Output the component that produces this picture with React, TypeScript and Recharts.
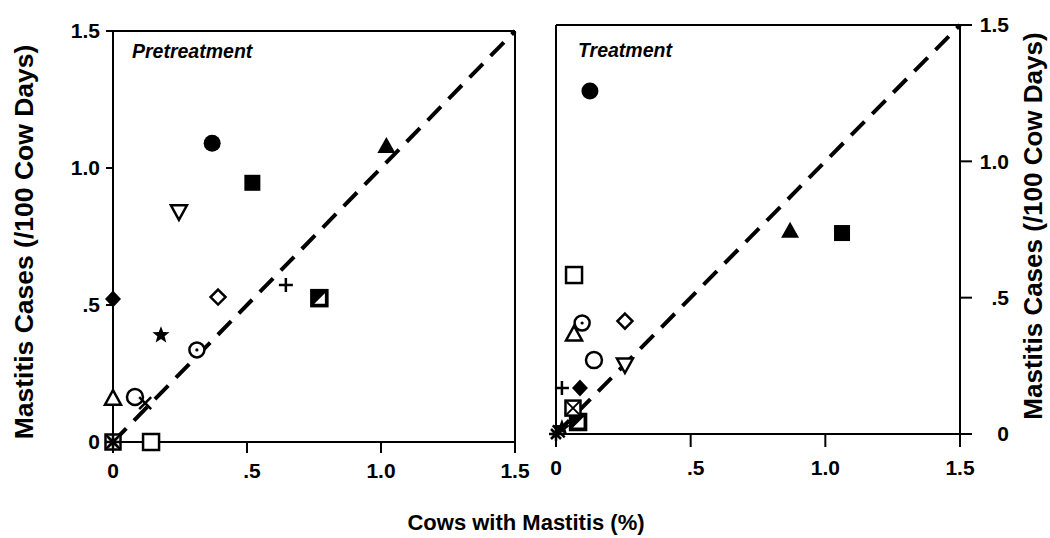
import React from 'react';
import { ScatterChart, Scatter, XAxis, YAxis, ReferenceLine } from 'recharts';

// one marker per herd, same marker in both panels
const herdMarkers = [
  'filledCircle', 'filledSquare', 'filledTriangle', 'openDownTriangle',
  'filledDiamond', 'openDiamond', 'plus', 'halfSquare',
  'dotCircle', 'openCircle', 'cross', 'openTriangle',
  'openSquare', 'star', 'bowtieSquare', 'asterisk',
];

const pretreatmentX = [0.37, 0.52, 1.02, 0.246, 0, 0.392, 0.645, 0.77, 0.313, 0.082, 0.12, 0, 0.142, 0.179, 0, 0];
const pretreatmentY = [1.09, 0.946, 1.08, 0.84, 0.522, 0.529, 0.573, 0.525, 0.336, 0.164, 0.142, 0.16, 0, 0.39, 0, 0];

const treatmentX = [0.126, 1.062, 0.869, 0.256, 0.089, 0.256, 0.022, 0.082, 0.097, 0.141, 0.01, 0.067, 0.067, 0.022, 0.063, 0];
const treatmentY = [1.258, 0.737, 0.745, 0.253, 0.169, 0.414, 0.169, 0.044, 0.407, 0.271, 0.01, 0.367, 0.583, 0.022, 0.095, 0];

const tickValues = [0, 0.5, 1, 1.5];
const tickLabels = ['0', '.5', '1.0', '1.5'];

const yTitle = 'Mastitis Cases (/100 Cow Days)';
const xTitle = 'Cows with Mastitis (%)';

const pretreatmentData = herdMarkers.map((marker, i) => ({ x: pretreatmentX[i], y: pretreatmentY[i], marker }));
const treatmentData = herdMarkers.map((marker, i) => ({ x: treatmentX[i], y: treatmentY[i], marker }));

const FONT = '"Liberation Sans", Arial, Helvetica, sans-serif';
const axisStroke = { stroke: '#000', strokeWidth: 2 };
const diagonal = [{ x: 0, y: 0 }, { x: 1.5, y: 1.5 }];

const labelFor = (v: number) => tickLabels[tickValues.indexOf(v)] ?? String(v);

const XTick = ({ x, y, payload }: any) => {
  const label = labelFor(payload.value);
  return (
    <text x={x} y={y} dx={label.startsWith('.') ? 5 : 0} dy="0.71em" textAnchor="middle"
      fontFamily={FONT} fontWeight={700} fontSize={21} fill="#000">
      {label}
    </text>
  );
};

const LeftYTick = ({ x, y, payload }: any) => (
  <text x={x} y={y} dy="0.355em" textAnchor="end" fontFamily={FONT} fontWeight={700} fontSize={21} fill="#000">
    {labelFor(payload.value)}
  </text>
);

const RightYTick = ({ x, y, payload }: any) => (
  <text x={x + 31} y={y} dy="0.355em" textAnchor="end" fontFamily={FONT} fontWeight={700} fontSize={21} fill="#000">
    {labelFor(payload.value)}
  </text>
);

const starPoints = (cx: number, cy: number, outer: number, inner: number) => {
  const pts: string[] = [];
  for (let k = 0; k < 10; k++) {
    const r = k % 2 === 0 ? outer : inner;
    const a = -Math.PI / 2 + (k * Math.PI) / 5;
    pts.push(`${cx + r * Math.cos(a)},${cy + r * Math.sin(a)}`);
  }
  return pts.join(' ');
};

const renderMarker = (props: any) => {
  const { cx, cy, payload } = props;
  const sw = 2.5;
  const open = { fill: '#fff', stroke: '#000', strokeWidth: sw };
  switch (payload.marker) {
    case 'filledCircle':
      return <circle cx={cx} cy={cy} r={8.5} fill="#000" />;
    case 'openCircle':
      return <circle cx={cx} cy={cy} r={8} {...open} />;
    case 'dotCircle':
      return (
        <g>
          <circle cx={cx} cy={cy} r={7.5} {...open} />
          <circle cx={cx} cy={cy} r={1.6} fill="#000" />
        </g>
      );
    case 'filledSquare':
      return <rect x={cx - 8} y={cy - 8} width={16} height={16} fill="#000" />;
    case 'openSquare':
      return <rect x={cx - 8} y={cy - 8} width={16} height={16} {...open} />;
    case 'halfSquare':
      return (
        <g>
          <rect x={cx - 8} y={cy - 8} width={16} height={16} fill="#000" stroke="#000" strokeWidth={sw} />
          <polygon points={`${cx - 5},${cy + 5.5} ${cx + 5.5},${cy + 5.5} ${cx + 5.5},${cy - 5}`} fill="#fff" />
        </g>
      );
    case 'bowtieSquare':
      return (
        <g>
          <rect x={cx - 7.5} y={cy - 7.5} width={15} height={15} {...open} />
          <path d={`M${cx - 7.5},${cy - 7.5} L${cx + 7.5},${cy + 7.5} M${cx + 7.5},${cy - 7.5} L${cx - 7.5},${cy + 7.5}`} stroke="#000" strokeWidth={2} />
        </g>
      );
    case 'filledTriangle':
      return <polygon points={`${cx},${cy - 9} ${cx + 9},${cy + 7} ${cx - 9},${cy + 7}`} fill="#000" />;
    case 'openTriangle':
      return <polygon points={`${cx},${cy - 8} ${cx + 8},${cy + 6.5} ${cx - 8},${cy + 6.5}`} {...open} />;
    case 'openDownTriangle':
      return <polygon points={`${cx - 8},${cy - 6.5} ${cx + 8},${cy - 6.5} ${cx},${cy + 8}`} {...open} />;
    case 'filledDiamond':
      return <polygon points={`${cx},${cy - 8.5} ${cx + 8},${cy} ${cx},${cy + 8.5} ${cx - 8},${cy}`} fill="#000" />;
    case 'openDiamond':
      return <polygon points={`${cx},${cy - 7.5} ${cx + 7.5},${cy} ${cx},${cy + 7.5} ${cx - 7.5},${cy}`} {...open} />;
    case 'plus':
      return <path d={`M${cx - 7},${cy} L${cx + 7},${cy} M${cx},${cy - 7} L${cx},${cy + 7}`} stroke="#000" strokeWidth={sw} />;
    case 'cross':
      return <path d={`M${cx - 6},${cy - 6} L${cx + 6},${cy + 6} M${cx + 6},${cy - 6} L${cx - 6},${cy + 6}`} stroke="#000" strokeWidth={sw} />;
    case 'star':
      return <polygon points={starPoints(cx, cy, 9, 3.8)} fill="#000" />;
    case 'asterisk':
      return (
        <path
          d={`M${cx - 7},${cy} L${cx + 7},${cy} M${cx},${cy - 7} L${cx},${cy + 7} M${cx - 5},${cy - 5} L${cx + 5},${cy + 5} M${cx + 5},${cy - 5} L${cx - 5},${cy + 5}`}
          stroke="#000" strokeWidth={2.5}
        />
      );
    default:
      return <circle cx={cx} cy={cy} r={4} fill="#000" />;
  }
};

const titleStyle = { fontFamily: FONT, fontWeight: 700, fill: '#000' };

const App = () => (
  <div style={{ position: 'absolute', left: 0, top: 0, width: 1050, height: 538, background: '#fff' }}>
    {/* Pretreatment panel */}
    <div style={{ position: 'absolute', left: 0, top: 0 }}>
      <ScatterChart width={540} height={538} margin={{ top: 31, right: 25, bottom: 56, left: 0 }}>
        <XAxis type="number" dataKey="x" domain={[0, 1.5]} ticks={tickValues} height={40}
          axisLine={axisStroke} tickLine={axisStroke} tickSize={11} tickMargin={10} tick={<XTick />} />
        <YAxis type="number" dataKey="y" domain={[0, 1.5]} ticks={tickValues} width={113}
          axisLine={axisStroke} tickLine={axisStroke} tickSize={7} tickMargin={6} tick={<LeftYTick />} />
        <ReferenceLine y={1.5} stroke="#000" strokeWidth={2} />
        <ReferenceLine x={1.5} stroke="#000" strokeWidth={2} />
        <ReferenceLine segment={diagonal} stroke="#000" strokeWidth={4} strokeDasharray="19 11" />
        <Scatter data={pretreatmentData} shape={renderMarker} isAnimationActive={false} />
        <text x={132} y={58} fontSize={19.5} fontStyle="italic" {...titleStyle}>Pretreatment</text>
        <text x={24} y={242} dy="0.355em" textAnchor="middle" fontSize={26.5}
          transform="rotate(-90, 24, 242)" {...titleStyle}>
          {yTitle}
        </text>
      </ScatterChart>
    </div>

    {/* Treatment panel */}
    <div style={{ position: 'absolute', left: 520, top: 0 }}>
      <ScatterChart width={530} height={538} margin={{ top: 25, right: 0, bottom: 64, left: 36 }}>
        <XAxis type="number" dataKey="x" domain={[0, 1.5]} ticks={tickValues} height={40}
          axisLine={axisStroke} tickLine={axisStroke} tickSize={13} tickMargin={13} tick={<XTick />} />
        <YAxis type="number" dataKey="y" domain={[0, 1.5]} ticks={tickValues} width={90} orientation="right"
          axisLine={axisStroke} tickLine={axisStroke} tickSize={12} tickMargin={6} tick={<RightYTick />} />
        <ReferenceLine y={1.5} stroke="#000" strokeWidth={2} />
        <ReferenceLine x={0} stroke="#000" strokeWidth={2} />
        <ReferenceLine segment={diagonal} stroke="#000" strokeWidth={4} strokeDasharray="19 11" />
        <Scatter data={treatmentData} shape={renderMarker} isAnimationActive={false} />
        <text x={58} y={57} fontSize={19.5} fontStyle="italic" {...titleStyle}>Treatment</text>
        <text x={513} y={226} dy="0.355em" textAnchor="middle" fontSize={26}
          transform="rotate(-90, 513, 226)" {...titleStyle}>
          {yTitle}
        </text>
      </ScatterChart>
    </div>

    <svg width={1050} height={538} style={{ position: 'absolute', left: 0, top: 0, pointerEvents: 'none' }}>
      <text x={526} y={530} textAnchor="middle" fontSize={22} {...titleStyle}>{xTitle}</text>
    </svg>
  </div>
);

export default App;
